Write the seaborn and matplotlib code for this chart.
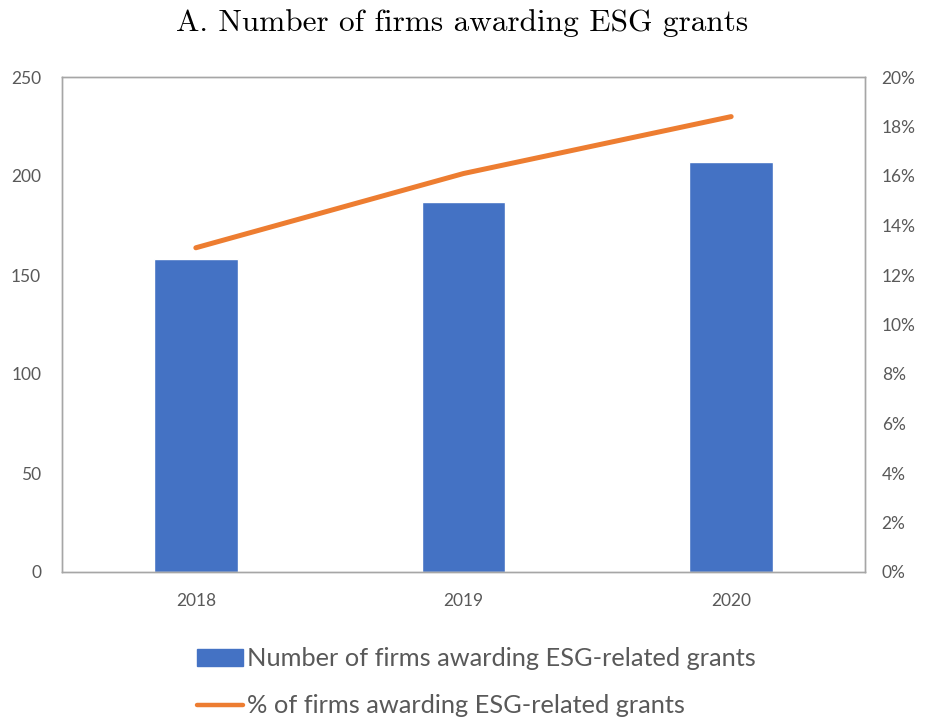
import matplotlib
matplotlib.use("Agg")
import matplotlib.pyplot as plt
import matplotlib.ticker as mticker
from matplotlib.patches import Patch
from matplotlib.lines import Line2D
import numpy as np
import pandas as pd
import seaborn as sns

# ---- data ----
years = ["2018", "2019", "2020"]
n_firms = [158, 187, 207]
pct_firms = [13.1, 16.1, 18.4]
left_ticks = [0, 50, 100, 150, 200, 250]
right_ticks = [0, 2, 4, 6, 8, 10, 12, 14, 16, 18, 20]
title = "A. Number of firms awarding ESG grants"
bar_label = "Number of firms awarding ESG-related grants"
line_label = "% of firms awarding ESG-related grants"

BLUE = "#4472C4"
ORANGE = "#ED7D31"
TXT = "#595959"
FRAME = "#A6A6A6"

sns.set_theme(style="white")
plt.rcParams["font.family"] = ["Lato", "DejaVu Sans"]

fig = plt.figure(figsize=(9.25, 7.21), dpi=100)
ax = fig.add_axes([62 / 925, 1 - 572 / 721, (865 - 62) / 925, (572 - 77) / 721])

df = pd.DataFrame({"year": years, "n": n_firms, "pct": pct_firms})
sns.barplot(data=df, x="year", y="n", color=BLUE, saturation=1, width=0.312, ax=ax)
ax.set_xlim(-0.5, len(years) - 0.5)
ax.set_ylim(0, 250)
ax.set_yticks(left_ticks)
ax.set_xlabel("")
ax.set_ylabel("")

ax2 = ax.twinx()
pos = np.arange(len(years))
sns.lineplot(x=pos, y=pct_firms, color=ORANGE, linewidth=3.6, ax=ax2,
             solid_capstyle="round")
ax2.set_ylim(0, 20)
ax2.set_yticks(right_ticks)
ax2.yaxis.set_major_formatter(mticker.FuncFormatter(lambda v, p: f"{v:.0f}%"))
ax2.set_ylabel("")

for a in (ax, ax2):
    for s in a.spines.values():
        s.set_color(FRAME)
        s.set_linewidth(1.0)
        s.set_visible(True)
    a.tick_params(length=0, labelsize=12.5, labelcolor=TXT)

ax.tick_params(axis="y", pad=15)
ax.tick_params(axis="x", pad=15)
ax2.tick_params(axis="y", pad=12)
ax.set_xticks(pos)
ax.set_xticklabels(years)

fig.text(0.5, 1 - 23 / 721, title, ha="center", va="center",
         fontsize=22.5, family="cmr10", color="black")

handles = [Patch(facecolor=BLUE, edgecolor=BLUE),
           Line2D([0], [0], color=ORANGE, linewidth=3.2, solid_capstyle="round")]
leg = fig.legend(handles, [bar_label, line_label], loc="upper left",
                 bbox_to_anchor=(187 / 925, 1 - 637 / 721), frameon=False,
                 fontsize=18.3, handlelength=1.8, handleheight=0.65,
                 handletextpad=0.15, labelspacing=0.95, labelcolor=TXT,
                 borderaxespad=0)

fig.savefig("out.png", dpi=100)
